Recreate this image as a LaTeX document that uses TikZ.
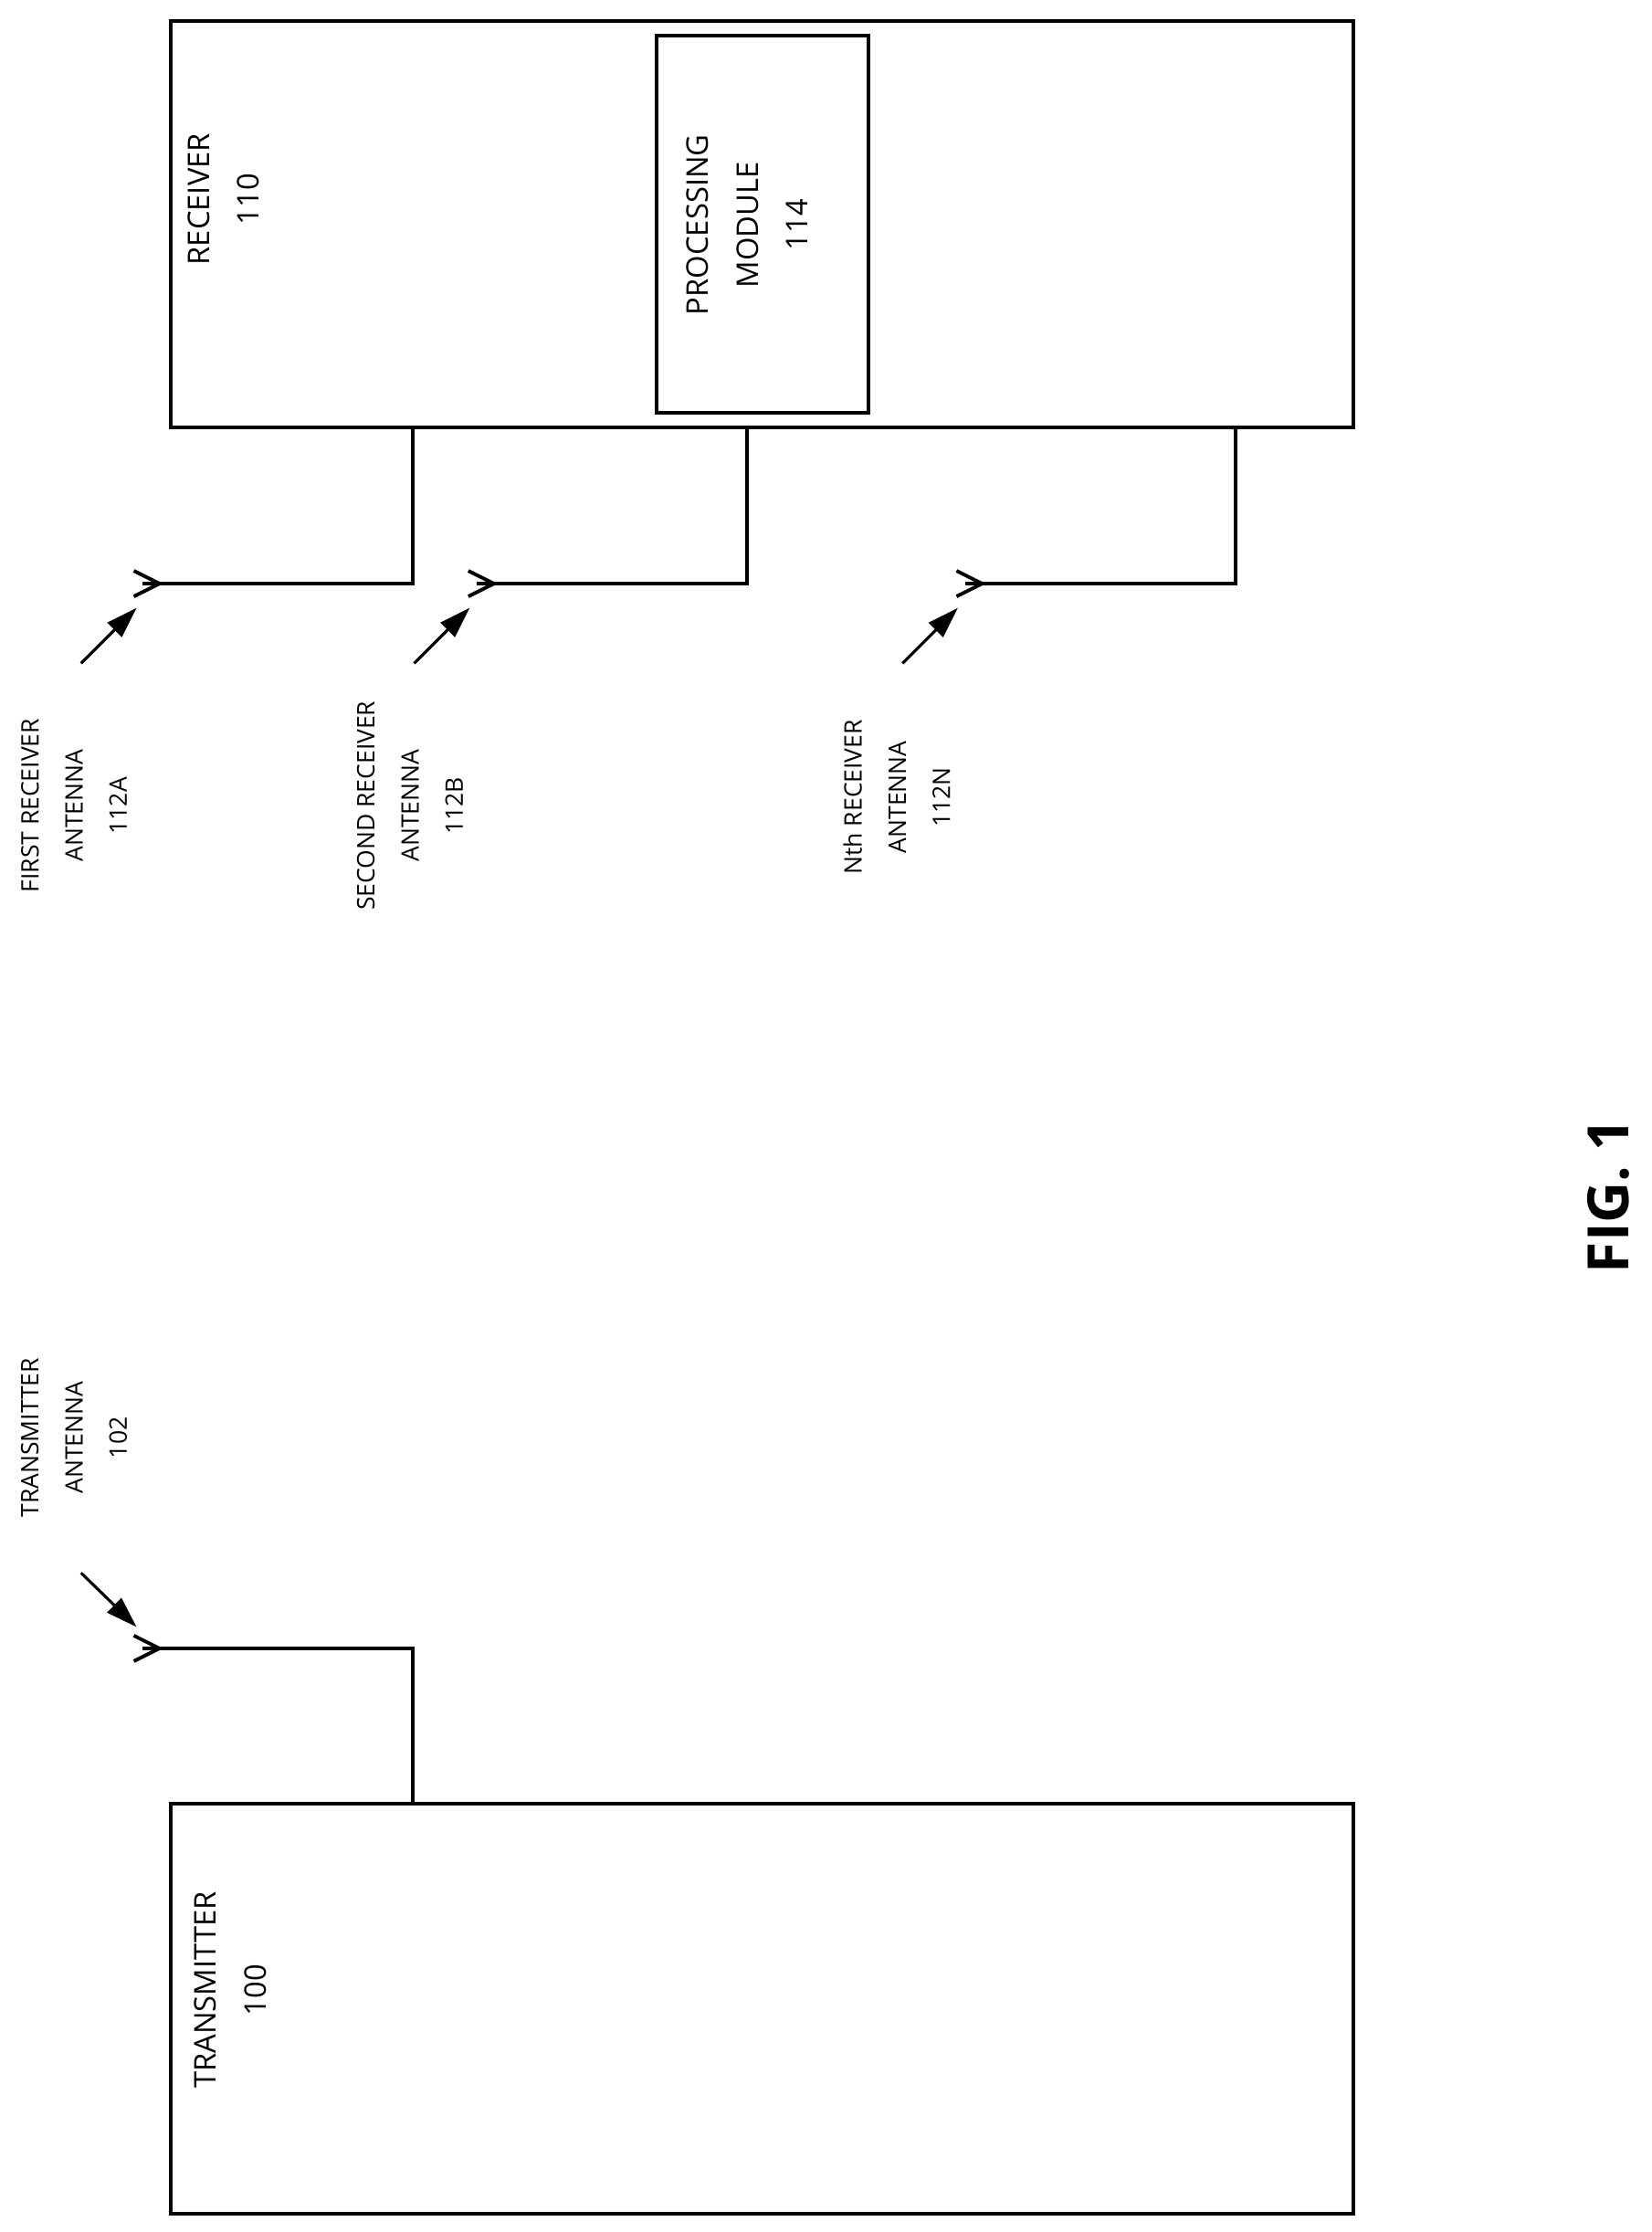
\documentclass[tikz,border=0pt]{standalone}
\usepackage{fontspec}
\setmainfont{Open Sans}
\usetikzlibrary{arrows.meta}
\begin{document}
\begin{tikzpicture}[x=1pt,y=-1pt,
  box/.style={draw,line width=2.5pt},
  wire/.style={line width=2.5pt},
  lbl/.style={rotate=90,align=center,font=\fontsize{17}{31}\selectfont},
  blbl/.style={rotate=90,align=center,font=\fontsize{21}{35}\selectfont},
  ptr/.style={line width=2pt,-{Triangle[length=22pt,width=14pt]}},
  chev/.style={line width=2.5pt}]
\useasboundingbox (0,0) rectangle (1160,1568);
\draw[box] (120,15) rectangle (951,300);
\draw[box] (461,25) rectangle (610,290);
\node[blbl] (rx) at (157,140) {RECEIVER\\110};
\node[blbl] (pm) at (525,158) {PROCESSING\\MODULE\\114};
\draw[box] (120,1267) rectangle (951,1555);
\node[blbl] (tx) at (162,1398) {TRANSMITTER\\100};
% wires
\coordinate (a1) at (100,410); \coordinate (a2) at (335,410); \coordinate (a3) at (678,410); \coordinate (at) at (100,1158);
\draw[wire] (290,300) |- (a1);
\draw[wire] (525,300) |- (a2);
\draw[wire] (868,300) |- (a3);
\draw[wire] (290,1267) |- (at);
\foreach \c in {a1,a2,a3,at}{
  \draw[chev] ([shift={(-6,-9)}]\c) -- ([shift={(12,0)}]\c) -- ([shift={(-6,9)}]\c);
}
% pointers
\draw[ptr] (57,466) -- (96,427);
\draw[ptr] (291,466) -- (330,427);
\draw[ptr] (634,466) -- (673,427);
\draw[ptr] (57,1105) -- (96,1143);
% labels
\node[lbl] (l1) at (52,566) {FIRST RECEIVER\\ANTENNA\\112A};
\node[lbl] (l2) at (288,566) {SECOND RECEIVER\\ANTENNA\\112B};
\node[lbl] (l3) at (630,560) {Nth RECEIVER\\ANTENNA\\112N};
\node[lbl] (lt) at (52,1010) {TRANSMITTER\\ANTENNA\\102};
\node[rotate=90,font=\fontsize{40}{44}\selectfont\bfseries] (fig) at (1130,840) {FIG. 1};
\end{tikzpicture}
\end{document}
